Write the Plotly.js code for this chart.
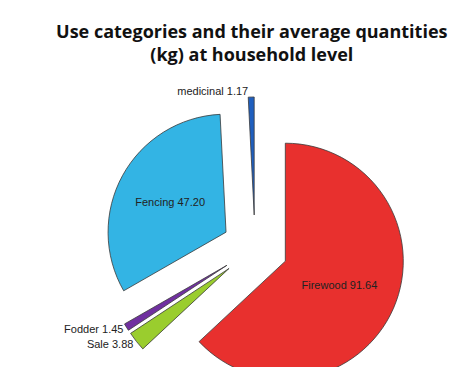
<!DOCTYPE html>
<html><head><meta charset="utf-8">
<script src="https://cdn.plot.ly/plotly-3.0.1.min.js"></script>
<style>html,body{margin:0;padding:0;overflow:hidden;background:#fff;}#chart{width:462px;height:400px;}</style>
</head><body><div id="chart"></div>
<script>
const categories = ["Firewood", "Sale", "Fodder", "Fencing", "medicinal"];
const quantities = [91.64, 3.88, 1.45, 47.20, 1.17];
const sliceColors = ["#E8302E", "#9ACD2E", "#7030A0", "#33B4E4", "#1F5FBF"];
const textPositions = ["inside", "outside", "outside", "inside", "outside"];

const trace = {
  type: "pie",
  labels: categories,
  values: quantities,
  sort: false,
  direction: "clockwise",
  rotation: 0,
  pull: 0.28,
  hole: 0,
  marker: {colors: sliceColors, line: {color: "#3a3a3a", width: 0.8}},
  texttemplate: "%{label} %{value:.2f}",
  textposition: textPositions,
  insidetextorientation: "horizontal",
  textfont: {family: "Liberation Sans, Arial, sans-serif", size: 11, color: "#222"},
  outsidetextfont: {family: "Liberation Sans, Arial, sans-serif", size: 11, color: "#222"},
  showlegend: false,
  domain: {x: [0.225, 0.879], y: [0.0025, 0.7575]}
};

const layout = {
  width: 462, height: 400,
  margin: {l: 0, r: 0, t: 0, b: 0},
  paper_bgcolor: "#fff",
  title: {
    text: "<b>Use categories and their average quantities<br>(kg) at household level</b>",
    font: {family: "Open Sans, sans-serif", size: 18, color: "#111"},
    x: 0.545, xanchor: "center", y: 0.905, yanchor: "top", yref: "container"
  },
  showlegend: false
};

Plotly.newPlot("chart", [trace], layout, {displayModeBar: false, staticPlot: true});
</script></body></html>
